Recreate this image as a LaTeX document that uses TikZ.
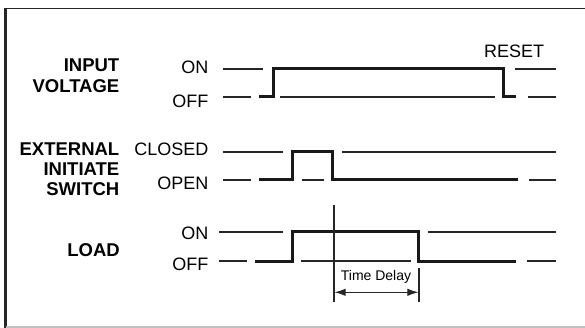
\documentclass[tikz,border=0pt]{standalone}
\usepackage{fontspec}
\setmainfont{Liberation Sans}
\usetikzlibrary{arrows.meta}
\begin{document}
\begin{tikzpicture}[x=1pt,y=-1pt,
  thinw/.style={line width=1.4pt, black!85},
  thickw/.style={line width=3pt, black!90, line join=miter},
  lbl/.style={font=\fontsize{18.5}{20}\selectfont\bfseries, anchor=base east, inner sep=0pt},
  st/.style={font=\fontsize{18}{20}\selectfont, anchor=base east, inner sep=0pt}]
\useasboundingbox (0,0) rectangle (585,328);
% frame
\draw[line width=1.6pt, black!85] (4.5,8.5) -- (585,8.5);
\draw[line width=2.5pt, black!85] (5.5,8) -- (5.5,328);
\draw[line width=1.2pt, black!25] (6,327) -- (585,327);
% signal names
\node[lbl] (inp1) at (119.5,71.8) {INPUT};
\node[lbl] (inp2) at (119.5,92.3) {VOLTAGE};
\node[lbl] (ext1) at (119.5,156) {EXTERNAL};
\node[lbl] (ext2) at (119.5,176) {INITIATE};
\node[lbl] (ext3) at (119.5,196) {SWITCH};
\node[lbl] (load) at (120,256.5) {LOAD};
% states
\node[st] (on1) at (208.5,73.3) {ON};
\node[st] (off1) at (208.5,107.3) {OFF};
\node[st] (cl) at (208.5,156) {CLOSED};
\node[st] (op) at (208.5,190) {OPEN};
\node[st] (on3) at (208.5,240) {ON};
\node[st] (off3) at (208.5,270) {OFF};
\node[font=\fontsize{18}{20}\selectfont, anchor=base, inner sep=0pt] (reset) at (514,58) {RESET};
% input voltage
\draw[thinw] (223,69) -- (263,69);
\draw[thinw] (223,97) -- (251,97);
\draw[thickw] (259,97) -- (273,97) -- (273,69) -- (503,69) -- (503,97) -- (516,97);
\draw[thinw] (280,97) -- (495,97);
\draw[thinw] (515,69) -- (556,69);
\draw[thinw] (528,97) -- (556,97);
% external initiate switch
\draw[thinw] (223,152) -- (283,152);
\draw[thinw] (223,180) -- (251,180);
\draw[thickw] (259,180) -- (292,180) -- (292,152) -- (332,152) -- (332,180) -- (518,180);
\draw[thinw] (302,180) -- (324,180);
\draw[thinw] (342,152) -- (556,152);
\draw[thinw] (529,180) -- (556,180);
% load
\draw[thinw] (219,232) -- (283,232);
\draw[thinw] (219,261) -- (247,261);
\draw[thickw] (255,261) -- (292,261) -- (292,232) -- (418,232) -- (418,261) -- (516,261);
\draw[thinw] (301,261) -- (411,261);
\draw[thinw] (428,232) -- (556,232);
\draw[thinw] (527,261) -- (556,261);
% time delay
\coordinate (t0top) at (334,205);
\coordinate (t0bot) at (334,302);
\coordinate (t1top) at (419,268);
\coordinate (t1bot) at (419,302);
\draw[line width=1.3pt, black!85] (t0top) -- (t0bot);
\draw[line width=1.3pt, black!85] (t1top) -- (t1bot);
\coordinate (a0) at (334.6,292.3);
\coordinate (a1) at (418.4,292.3);
\draw[line width=1pt, black!85, {Latex[length=11pt,width=7.5pt]}-{Latex[length=11pt,width=7.5pt]}] (a0) -- (a1);
\node[font=\fontsize{14}{16}\selectfont, anchor=base, inner sep=0pt] (td) at (376,280.7) {Time Delay};
\end{tikzpicture}
\end{document}
